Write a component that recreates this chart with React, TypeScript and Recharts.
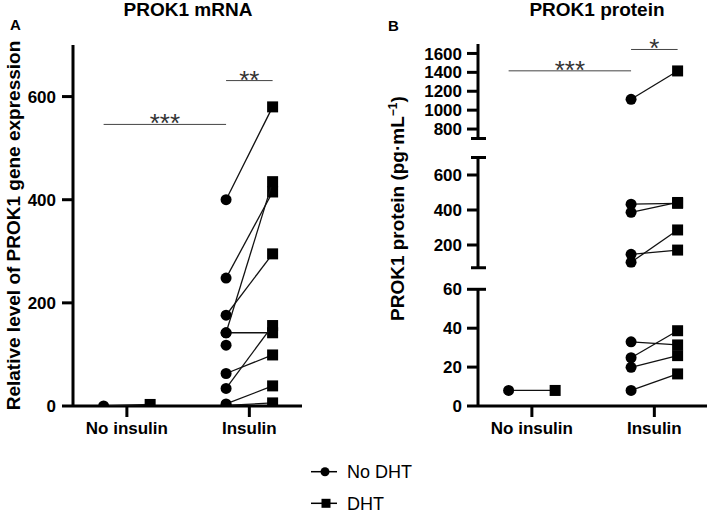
import React from "react";
import { ComposedChart, Scatter, XAxis, YAxis, ReferenceLine } from "recharts";

const categories = ["No insulin", "Insulin"];
const seriesNames = ["No DHT", "DHT"];

// paired samples: group index (into categories), value without DHT, value with DHT
const mrnaGroup = [0, 1, 1, 1, 1, 1, 1, 1, 1, 1, 1];
const mrnaNoDht = [0, 400, 248, 176, 142, 142, 118, 63, 34, 4, 1];
const mrnaDht = [3, 580, 415, 295, 435, 142, null, 99, 156, 39, 6];
const mrnaTicks = [0, 200, 400, 600];

const proteinGroup = [0, 1, 1, 1, 1, 1, 1, 1, 1, 1];
const proteinNoDht = [8, 1115, 433, 387, 101, 147, 33, 24.8, 19.9, 8];
const proteinDht = [8, 1415, 438, 443, 286, 171, 31.4, 38.7, 25.9, 16.5];

// broken y axis of panel B, top segment first
const segmentDomains = [
  [700, 1700],
  [70, 700],
  [0, 60],
];
const segmentTicks = [
  [800, 1000, 1200, 1400, 1600],
  [200, 400, 600],
  [0, 20, 40, 60],
];
const segmentCaps = [[700], [70, 700], [60]];

// significance bars: [x from, x to, y, label]
const mrnaSig: [number, number, number, string][] = [
  [0.81, 1.81, 546, "***"],
  [1.81, 2.19, 631, "**"],
];
const proteinSig: [number, number, number, string][] = [
  [0.81, 1.81, 1416, "***"],
  [1.81, 2.19, 1642, "*"],
];

const FONT = "'Liberation Sans', Arial, Helvetica, sans-serif";
const OFFSET = 0.19;
const X_DOMAIN = [0.56, 2.43];
const CHART_H = 446;
const X_AXIS_H = 40;

type Pt = { x: number; y: number; dht: boolean };

function buildPairs(group: number[], a: (number | null)[], b: (number | null)[]) {
  return group.map((g, i) => {
    const pts: Pt[] = [];
    if (a[i] != null) pts.push({ x: g + 1 - OFFSET, y: a[i] as number, dht: false });
    if (b[i] != null) pts.push({ x: g + 1 + OFFSET, y: b[i] as number, dht: true });
    return pts;
  });
}

const mrnaPairs = buildPairs(mrnaGroup, mrnaNoDht, mrnaDht);
const proteinPairs = buildPairs(proteinGroup, proteinNoDht, proteinDht);

const Marker = (props: any) => {
  const { cx, cy, payload } = props;
  if (cx == null || cy == null) return null;
  if (payload && payload.dht) {
    return <rect x={cx - 5.5} y={cy - 5.5} width={11} height={11} fill="#000" />;
  }
  return <circle cx={cx} cy={cy} r={5.5} fill="#000" />;
};

const tickStyle = { fill: "#000", fontSize: 17, fontWeight: 700, fontFamily: FONT };
const axisLine = { stroke: "#000", strokeWidth: 3 };

function pairSeries(pairs: Pt[][], prefix: string) {
  return pairs.map((pts, i) => (
    <Scatter
      key={prefix + i}
      data={pts}
      dataKey="y"
      line={{ stroke: "#111", strokeWidth: 1.3 }}
      shape={<Marker />}
      isAnimationActive={false}
    />
  ));
}

function sigLines(sig: [number, number, number, string][], prefix: string) {
  return sig.map(([x1, x2, y, text], i) => (
    <ReferenceLine
      key={prefix + i}
      segment={[
        { x: x1, y },
        { x: x2, y },
      ]}
      stroke="#444"
      strokeWidth={1}
      label={{
        value: text,
        position: "top",
        offset: -8,
        fill: "#333",
        fontSize: 26,
        fontFamily: FONT,
      }}
    />
  ));
}

const xCategoryAxis = (hide: boolean) => (
  <XAxis
    type="number"
    dataKey="x"
    domain={X_DOMAIN}
    ticks={[1, 2]}
    interval={0}
    tickFormatter={(v: number) => categories[v - 1]}
    allowDataOverflow
    hide={hide}
    height={X_AXIS_H}
    axisLine={axisLine}
    tickLine={axisLine}
    tickSize={11}
    tickMargin={5}
    tick={tickStyle}
  />
);

// panel B: y-axis position inside its chart
const B_AXIS_W = 118;

function BrokenTick(props: any) {
  const { y, payload, seg } = props;
  const v = payload.value;
  const ax = B_AXIS_W;
  const labeled = segmentTicks[seg].includes(v);
  const cap = segmentCaps[seg].includes(v);
  return (
    <g>
      {labeled ? (
        <>
          <line x1={ax - 11} x2={ax} y1={y} y2={y} stroke="#000" strokeWidth={3} />
          <text
            x={ax - 16}
            y={y}
            dy="0.36em"
            textAnchor="end"
            fill="#000"
            fontSize={17}
            fontWeight={700}
            fontFamily={FONT}
          >
            {v}
          </text>
        </>
      ) : (
        <line x1={ax - 7} x2={ax} y1={y} y2={y} stroke="#000" strokeWidth={3} />
      )}
      {cap && <line x1={ax} x2={ax + 8} y1={y} y2={y} stroke="#000" strokeWidth={3} />}
    </g>
  );
}

const proteinLabel = (props: any) => {
  const vb = props.viewBox || {};
  const cx = 37;
  const cy = vb.y + vb.height / 2 - 4;
  return (
    <text
      x={cx}
      y={cy}
      dy="0.36em"
      transform={`rotate(-90 ${cx} ${cy})`}
      textAnchor="middle"
      fill="#000"
      fontSize={19}
      fontWeight={700}
      fontFamily={FONT}
    >
      PROK1 protein (pg·mL
      <tspan dy={-7} fontSize={12}>
        −1
      </tspan>
      <tspan dy={7}>)</tspan>
    </text>
  );
};

// plot area top/bottom (px) of each protein segment
const segmentPlotY = [
  [44, 138.5],
  [157.5, 267.75],
  [289.3, 406],
];

function ProteinSegment({ seg }: { seg: number }) {
  const [top, bottom] = segmentPlotY[seg];
  const last = seg === segmentDomains.length - 1;
  const [lo, hi] = segmentDomains[seg];
  const pairs = proteinPairs.filter((pts) => pts.every((p) => p.y >= lo && p.y <= hi));
  const ticks = Array.from(new Set([...segmentTicks[seg], ...segmentCaps[seg]])).sort((a, b) => a - b);
  return (
    <div style={{ position: "absolute", left: 360, top: 0 }}>
      <ComposedChart
        width={349}
        height={CHART_H}
        margin={{ top, right: 2, left: 0, bottom: last ? 0 : CHART_H - bottom }}
      >
        {xCategoryAxis(!last)}
        <YAxis
          type="number"
          dataKey="y"
          width={B_AXIS_W}
          domain={segmentDomains[seg]}
          ticks={ticks}
          interval={0}
          allowDataOverflow
          axisLine={axisLine}
          tickLine={false}
          tickSize={11}
          tickMargin={5}
          tick={(p: any) => <BrokenTick {...p} seg={seg} />}
          label={seg === 1 ? proteinLabel : undefined}
        />
        {seg === 0 && sigLines(proteinSig, "ps")}
        {pairSeries(pairs, "p" + seg + "-")}
      </ComposedChart>
    </div>
  );
}

export default function App() {
  return (
    <div
      style={{
        position: "absolute",
        left: 0,
        top: 0,
        width: 709,
        height: 511,
        background: "#fff",
        overflow: "hidden",
        fontFamily: FONT,
      }}
    >
      <div style={{ position: "absolute", left: 0, top: 0 }}>
        <ComposedChart width={310} height={CHART_H} margin={{ top: 45, right: 8, left: 0, bottom: 0 }}>
          {xCategoryAxis(false)}
          <YAxis
            type="number"
            dataKey="y"
            width={73}
            domain={[0, 700]}
            ticks={mrnaTicks}
            interval={0}
            allowDataOverflow
            axisLine={axisLine}
            tickLine={axisLine}
            tickSize={11}
            tickMargin={6}
            tick={tickStyle}
            label={{
              value: "Relative level of PROK1 gene expression",
              angle: -90,
              position: "insideLeft",
              dx: 8,
              textAnchor: "middle",
              fill: "#000",
              fontSize: 19,
              fontWeight: 700,
              fontFamily: FONT,
            }}
          />
          {sigLines(mrnaSig, "ms")}
          {pairSeries(mrnaPairs, "m")}
        </ComposedChart>
      </div>

      {segmentDomains.map((_, i) => (
        <ProteinSegment key={i} seg={i} />
      ))}

      <svg
        width={709}
        height={511}
        style={{ position: "absolute", left: 0, top: 0, pointerEvents: "none" }}
      >
        <g fontFamily={FONT} fill="#000">
          <text x={188} y={16} textAnchor="middle" fontSize={19} fontWeight={700}>
            PROK1 mRNA
          </text>
          <text x={597} y={16} textAnchor="middle" fontSize={19} fontWeight={700}>
            PROK1 protein
          </text>
          <text x={10} y={30} fontSize={15} fontWeight={700}>
            A
          </text>
          <text x={388} y={30.5} fontSize={15} fontWeight={700}>
            B
          </text>

          <line x1={311} x2={337} y1={471.7} y2={471.7} stroke="#000" strokeWidth={1.5} />
          <circle cx={325} cy={471.7} r={4.5} />
          <text x={347} y={478} fontSize={18}>
            {seriesNames[0]}
          </text>

          <line x1={311} x2={337} y1={503.3} y2={503.3} stroke="#000" strokeWidth={1.5} />
          <rect x={321.5} y={498.8} width={9} height={9} />
          <text x={347} y={509.5} fontSize={18}>
            {seriesNames[1]}
          </text>
        </g>
      </svg>
    </div>
  );
}
